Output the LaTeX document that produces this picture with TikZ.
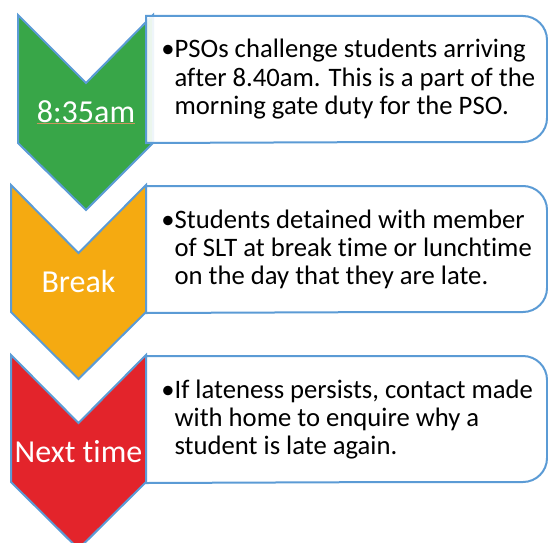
\documentclass[tikz,border=0pt]{standalone}
\usepackage{fontspec}
\setmainfont{Carlito}[Ligatures={NoCommon}]

\definecolor{chevgreen}{RGB}{56,166,72}
\definecolor{chevorange}{RGB}{245,170,17}
\definecolor{chevred}{RGB}{227,36,43}
\definecolor{edgeblue}{RGB}{91,155,213}
\definecolor{spellred}{RGB}{240,120,120}
\definecolor{linktan}{RGB}{205,150,95}

\newlength\markstart
\newlength\marklen
\newcommand\boxfont{\fontsize{20}{21}\selectfont}

\tikzset{
  chevron/.style={draw=edgeblue, line width=1.5pt, line join=miter},
  stepbox/.style={draw=edgeblue, line width=1.5pt, fill=white, fill opacity=0.9},
  steplabel/.style={text=white, font=\fontsize{24}{28}\selectfont, inner sep=0pt, anchor=base},
  steptext/.style={text=black, font=\boxfont, inner sep=0pt, anchor=base west},
  spellline/.style={spellred, line width=0.7pt},
}

\begin{document}
\begin{tikzpicture}[x=0.75pt,y=-0.75pt]
\clip (0,0) rectangle (548,542);
% First step: green chevron and its box
\draw[chevron, fill=chevgreen] (18,15) -- (86,83) -- (153,15) -- (153,143) -- (86,210) -- (18,143) -- cycle;
\draw[stepbox] (146,143) -- (146,16) -- (400,16) [rounded corners=18] -- (547,16) -- (547,142) -- (400,142) [sharp corners] -- cycle;
\node[steplabel] (lab1) at (86,122) {8:35am};
\draw[linktan, line width=0.7pt] ([yshift=-1pt]lab1.base west) -- ([yshift=-1pt]lab1.base east);
\node[steptext] (txt1) at (161,58) {\begin{tabular}[t]{@{}l@{}l@{}}
  \makebox[10pt][l]{•} & PSOs challenge students arriving\\
  & after 8.40am. This is a part of the\\
  & morning gate duty for the PSO.
\end{tabular}};
% underline the words marked in the first box
\settowidth{\marklen}{\boxfont PSOs}
\draw[spellline] ([xshift=10pt,yshift=-1.5pt]txt1.base west) -- ++(\marklen,0pt);
\settowidth{\markstart}{\boxfont after }
\settowidth{\marklen}{\boxfont 8.40am}
\draw[spellline] ([xshift=10pt+\markstart,yshift=-22.5pt]txt1.base west) -- ++(\marklen,0pt);
\settowidth{\markstart}{\boxfont morning gate duty for the }
\settowidth{\marklen}{\boxfont PSO}
\draw[spellline] ([xshift=10pt+\markstart,yshift=-43.5pt]txt1.base west) -- ++(\marklen,0pt);
% Second step: orange chevron and its box
\draw[chevron, fill=chevorange] (11,185) -- (78.5,253) -- (146,185) -- (146,312) -- (78.5,379) -- (11,312) -- cycle;
\draw[stepbox] (146,313) -- (146,186) -- (400,186) [rounded corners=18] -- (547,186) -- (547,312) -- (400,312) [sharp corners] -- cycle;
\node[steplabel] (lab2) at (78.5,292) {Break};
\node[steptext] (txt2) at (161,228) {\begin{tabular}[t]{@{}l@{}l@{}}
  \makebox[10pt][l]{•} & Students detained with member\\
  & of SLT at break time or lunchtime\\
  & on the day that they are late.
\end{tabular}};
% Third step: red chevron and its box
\draw[chevron, fill=chevred] (11,355) -- (78.5,423) -- (146,355) -- (146,482) -- (78.5,549) -- (11,482) -- cycle;
\draw[stepbox] (146,483) -- (146,356) -- (400,356) [rounded corners=18] -- (547,356) -- (547,482) -- (400,482) [sharp corners] -- cycle;
\node[steplabel] (lab3) at (78.5,462) {Next time};
\node[steptext] (txt3) at (161,398) {\begin{tabular}[t]{@{}l@{}l@{}}
  \makebox[10pt][l]{•} & If lateness persists, contact made\\
  & with home to enquire why a\\
  & student is late again.
\end{tabular}};
\end{tikzpicture}
\end{document}
